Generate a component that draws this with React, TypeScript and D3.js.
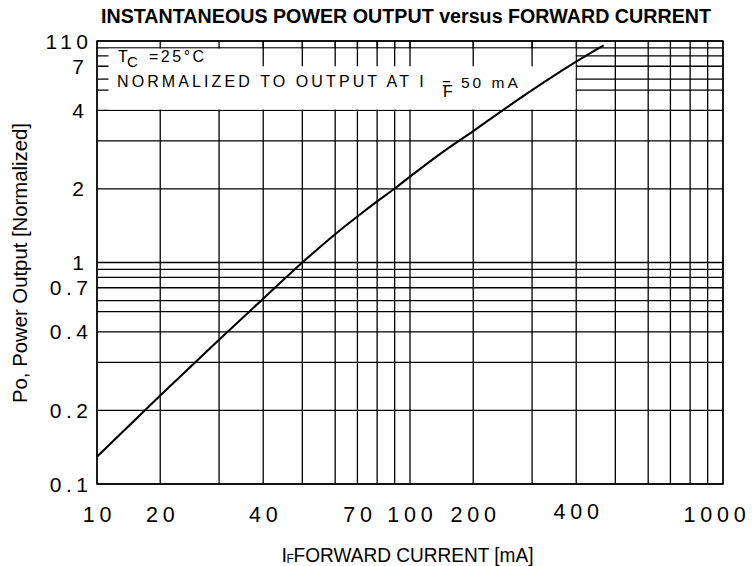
import React, { useEffect, useRef } from 'react';
import * as d3 from 'd3';

// forward current (mA) and normalized power output
const currentMA = [10, 20, 30, 40, 50, 60, 70, 80, 90, 100, 150, 200, 250, 300, 400, 470];
const powerNorm = [0.137, 0.231, 0.374, 0.615, 1.0, 1.385, 1.625, 1.83, 2.01, 2.256, 2.75, 3.32, 4.0, 5.0, 7.44, 9.35];

// tick labels as printed
const xTickValues = [10, 20, 40, 70, 100, 200, 400, 1000];
const xTickText = ['10', '20', '40', '70', '100', '200', '400', '1000'];
const yTickValues = [10, 7, 4, 2, 1, 0.7, 0.4, 0.2, 0.1];
const yTickText = ['110', '7', '4', '2', '1', '0.7', '0.4', '0.2', '0.1'];

// the printed log paper is not a true log grid: where 1..10 sit inside one decade
const xDecadeFrac = [0, 0.202, 0.39, 0.531, 0.656, 0.761, 0.832, 0.895, 0.951, 1];
const yDecadeFrac = [0, 0.332, 0.549, 0.687, 0.778, 0.828, 0.886, 0.933, 0.969, 1];

const W = 752;
const H = 566;
const FONT = '"Liberation Sans", Arial, Helvetica, sans-serif';

// piecewise scale over `decades` decades starting at `start`
function paperScale(start: number, decades: number, frac: number[], r0: number, r1: number) {
  const domain: number[] = [];
  const range: number[] = [];
  const dw = (r1 - r0) / decades;
  for (let d = 0; d < decades; d++) {
    const base = start * Math.pow(10, d);
    for (let k = d === 0 ? 0 : 1; k < 10; k++) {
      domain.push(base * (k + 1));
      range.push(r0 + (d + frac[k]) * dw);
    }
  }
  return d3.scaleLinear().domain(domain).range(range);
}

export default function App() {
  const svgRef = useRef<SVGSVGElement>(null);

  useEffect(() => {
    if (!svgRef.current) return;
    const svg = d3.select(svgRef.current);
    svg.selectAll('*').remove();

    const left = 97, right = 723, top = 41, bottom = 484;
    const x = paperScale(10, 2, xDecadeFrac, left, right);
    const y = paperScale(0.1, 2, yDecadeFrac, bottom, top);

    const xGrid = x.domain() as number[];
    const yGrid = y.domain() as number[];

    svg.append('rect').attr('width', W).attr('height', H).attr('fill', '#fff');

    const g = svg.append('g').attr('stroke', '#000').attr('stroke-width', 1.3);

    // full grid
    g.selectAll('line.v')
      .data(xGrid)
      .join('line')
      .attr('class', 'v')
      .attr('x1', d => x(d)).attr('x2', d => x(d))
      .attr('y1', top).attr('y2', bottom);

    g.selectAll('line.h')
      .data(yGrid)
      .join('line')
      .attr('class', 'h')
      .attr('x1', left).attr('x2', right)
      .attr('y1', d => y(d)).attr('y2', d => y(d));

    // blank box behind the conditions text
    svg.append('rect')
      .attr('x', left + 11.5)
      .attr('y', y(9) + 0.8)
      .attr('width', x(400) - left - 11.5 - 0.7)
      .attr('height', y(4) - y(9) - 1.5)
      .attr('fill', '#fff');

    // short ticks hanging from the top inside the box
    svg.append('g').attr('stroke', '#000').attr('stroke-width', 1.3)
      .selectAll('line')
      .data(xGrid.filter(v => v >= 40 && v < 400))
      .join('line')
      .attr('x1', d => x(d)).attr('x2', d => x(d))
      .attr('y1', top).attr('y2', y(7));

    // frame
    svg.append('rect')
      .attr('x', left).attr('y', top)
      .attr('width', right - left).attr('height', bottom - top)
      .attr('fill', 'none').attr('stroke', '#000').attr('stroke-width', 1.4);

    // curve
    const pts = currentMA.map((c, i) => [c, powerNorm[i]] as [number, number]);
    const line = d3.line<[number, number]>()
      .x(d => x(d[0]))
      .y(d => y(d[1]))
      .curve(d3.curveMonotoneX);
    svg.append('path')
      .attr('d', line(pts))
      .attr('fill', 'none')
      .attr('stroke', '#000')
      .attr('stroke-width', 2.1)
      .attr('stroke-linejoin', 'round');

    const t = svg.append('g').attr('font-family', FONT).attr('fill', '#000');

    // title
    t.append('text')
      .attr('x', 101).attr('y', 23)
      .attr('font-size', 19.5).attr('font-weight', 'bold')
      .attr('textLength', 610).attr('lengthAdjust', 'spacingAndGlyphs')
      .text('INSTANTANEOUS POWER OUTPUT versus FORWARD CURRENT');

    // y tick labels
    t.selectAll('text.yt')
      .data(yTickValues)
      .join('text')
      .attr('class', 'yt')
      .attr('x', (d, i) => (yTickText[i].length === 1 ? 88.5 : 92.5))
      .attr('y', d => y(d) + 7.5)
      .attr('text-anchor', 'end')
      .attr('font-size', 21)
      .attr('letter-spacing', 4.5)
      .text((d, i) => yTickText[i]);

    // x tick labels
    t.selectAll('text.xt')
      .data(xTickValues)
      .join('text')
      .attr('class', 'xt')
      .attr('x', d => Math.min(x(d) + 2.5, W - 35))
      .attr('y', d => (d === 400 ? 519 : 522))
      .attr('text-anchor', 'middle')
      .attr('font-size', 21.5)
      .attr('letter-spacing', 4.8)
      .text((d, i) => xTickText[i]);

    // axis titles
    t.append('text')
      .attr('transform', 'rotate(-90)')
      .attr('x', -263).attr('y', 27)
      .attr('text-anchor', 'middle')
      .attr('font-size', 20)
      .attr('textLength', 280).attr('lengthAdjust', 'spacingAndGlyphs')
      .text('Po, Power Output [Normalized]');

    const xt = t.append('text').attr('x', 281.5).attr('y', 562).attr('font-size', 20);
    xt.append('tspan').text('I');
    xt.append('tspan').attr('font-size', 12).attr('dx', -0.5).attr('dy', 1).text('F');
    t.append('text')
      .attr('x', 293.5).attr('y', 562)
      .attr('font-size', 19.5)
      .attr('textLength', 240).attr('lengthAdjust', 'spacingAndGlyphs')
      .text('FORWARD CURRENT [mA]');

    // conditions
    const tc = t.append('text').attr('x', 118).attr('y', 62).attr('font-size', 16);
    tc.append('tspan').text('T');
    tc.append('tspan').attr('font-size', 15).attr('dx', -0.8).attr('dy', 5).text('C');
    t.append('text').attr('x', 149).attr('y', 62).attr('font-size', 16)
      .attr('letter-spacing', 2.5).text('=25°C');
    t.append('text').attr('x', 117).attr('y', 87).attr('font-size', 16)
      .attr('letter-spacing', 3.1).text('NORMALIZED TO OUTPUT AT I');
    const eq = t.append('text').attr('x', 442).attr('y', 89).attr('font-size', 15);
    eq.append('tspan').text('=');
    eq.append('tspan').attr('font-size', 16).attr('dx', -7.8).attr('dy', 8).text('F');
    t.append('text').attr('x', 461).attr('y', 88).attr('font-size', 15.5)
      .attr('letter-spacing', 3).text('50 mA');
  }, []);

  return (
    <svg
      ref={svgRef}
      width={W}
      height={H}
      viewBox={`0 0 ${W} ${H}`}
      style={{ position: 'absolute', left: 0, top: 0, display: 'block' }}
    />
  );
}
